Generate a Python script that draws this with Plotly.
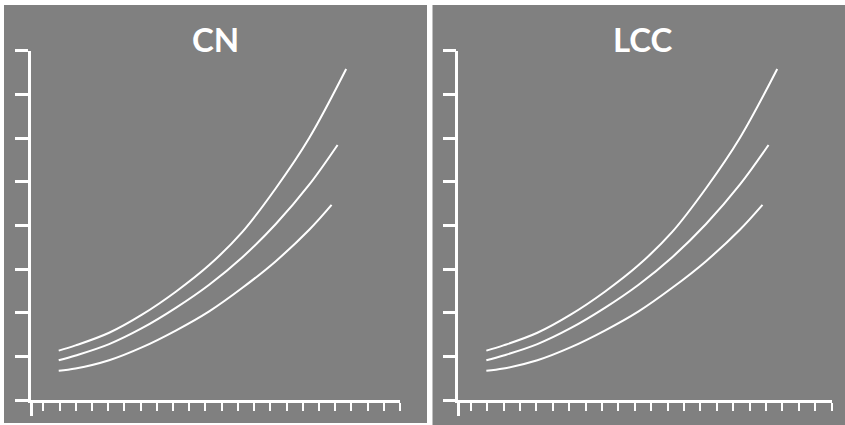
import plotly.graph_objects as go

W, H = 845, 425

# ---- data ----
panel_titles = ["CN", "LCC"]

x_upper = [1.95, 2.99, 5.06, 7.11, 9.17, 11.23, 13.28, 15.34, 17.40, 19.68]
y_upper = [1.13, 1.25, 1.54, 1.96, 2.48, 3.09, 3.85, 4.85, 6.00, 7.58]

x_middle = [1.95, 3.00, 5.06, 7.11, 9.17, 11.23, 13.28, 15.34, 17.40, 19.15]
y_middle = [0.91, 1.02, 1.28, 1.65, 2.11, 2.64, 3.27, 4.03, 4.93, 5.84]

x_lower = [1.95, 2.99, 5.06, 7.11, 9.17, 11.23, 13.28, 15.34, 17.40, 18.78]
y_lower = [0.67, 0.72, 0.91, 1.21, 1.59, 2.03, 2.57, 3.18, 3.90, 4.47]

x_ticks = list(range(1, 24))
y_ticks = list(range(0, 9))
x_origin = 0.24
x_max = 23
y_max = 8

# ---- figure ----
fig = go.Figure()
curves = [(x_upper, y_upper), (x_middle, y_middle), (x_lower, y_lower)]
for i, _ in enumerate(panel_titles):
    xa = "x" if i == 0 else "x2"
    ya = "y" if i == 0 else "y2"
    for xs, ys in curves:
        fig.add_trace(go.Scatter(
            x=xs, y=ys, mode="lines", xaxis=xa, yaxis=ya,
            line=dict(color="white", width=2, shape="spline", smoothing=1.0),
            hoverinfo="skip", showlegend=False))

GRAY = "#808080"
x_domains = [[31 / W, 400 / W], [458.3 / W, 831.7 / W]]
y_domain = [25 / H, 374.3 / H]

common_x = dict(range=[x_origin, x_max], showgrid=False, zeroline=False,
                showline=True, linecolor="white", linewidth=2.5,
                tickmode="array", tickvals=[x_origin], ticks="outside",
                ticklen=13, tickwidth=2.5, tickcolor="white",
                showticklabels=False, fixedrange=True,
                minor=dict(tickmode="array", tickvals=x_ticks, ticks="outside",
                           ticklen=8, tickwidth=2, tickcolor="white",
                           showgrid=False))
common_y = dict(range=[0, y_max], domain=y_domain, showgrid=False,
                zeroline=False, showline=True, linecolor="white",
                linewidth=2.5, tickmode="array", tickvals=y_ticks,
                ticks="outside", ticklen=13, tickwidth=2.5, tickcolor="white",
                showticklabels=False, fixedrange=True)

fig.update_layout(
    width=W, height=H,
    margin=dict(l=0, r=0, t=0, b=0),
    paper_bgcolor="white", plot_bgcolor="rgba(0,0,0,0)",
    xaxis=dict(domain=x_domains[0], anchor="y", **common_x),
    yaxis=dict(anchor="x", **common_y),
    xaxis2=dict(domain=x_domains[1], anchor="y2", **common_x),
    yaxis2=dict(anchor="x2", **common_y),
    shapes=[
        dict(type="rect", xref="paper", yref="paper", x0=4 / W, x1=427 / W,
             y0=2 / H, y1=420 / H, fillcolor=GRAY, line=dict(width=0),
             layer="below"),
        dict(type="rect", xref="paper", yref="paper", x0=432.5 / W, x1=1,
             y0=0, y1=420 / H, fillcolor=GRAY, line=dict(width=0),
             layer="below"),
    ],
    annotations=[
        dict(text=panel_titles[0], x=215 / W, y=(H - 39) / H, xref="paper",
             yref="paper", xanchor="center", yanchor="middle", showarrow=False,
             font=dict(family="Lato", size=33, color="white", weight=700)),
        dict(text=panel_titles[1], x=642.5 / W, y=(H - 39.5) / H, xref="paper",
             yref="paper", xanchor="center", yanchor="middle", showarrow=False,
             font=dict(family="Lato", size=33, color="white", weight=700)),
    ],
)

fig.write_html("out.html", config={"displayModeBar": False},
               post_script="document.body.style.margin='0';"
                           "document.body.style.overflow='hidden';")
